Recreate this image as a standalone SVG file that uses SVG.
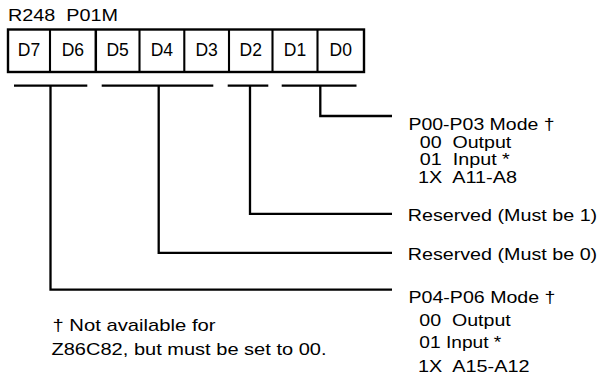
<svg xmlns="http://www.w3.org/2000/svg" width="598" height="377" viewBox="0 0 598 377">
<style>
  text { font-family: "Liberation Sans", Arial, sans-serif; fill: #000; }
  .lbl { font-size: 17px; }
  .bit { font-size: 17.5px; text-anchor: middle; }
  .box { fill: #fff; stroke: #000; stroke-width: 2.4; }
  .div { stroke: #000; stroke-width: 2.1; }
  .wire { fill: none; stroke: #000; stroke-width: 2.3; stroke-linejoin: miter; stroke-linecap: butt; }
</style>
<rect width="598" height="377" fill="#fff"/>
<g id="title">
  <text class="lbl" x="8" y="21" xml:space="preserve" textLength="110" lengthAdjust="spacingAndGlyphs">R248  P01M</text>
</g>
<g id="register">
  <rect class="box" x="8" y="29.5" width="356" height="42.5"/>
  <line class="div" x1="50" y1="29.5" x2="50" y2="72"/>
  <line class="div" x1="95.8" y1="29.5" x2="95.8" y2="72" style="stroke-width:2.5"/>
  <line class="div" x1="139.5" y1="29.5" x2="139.5" y2="72"/>
  <line class="div" x1="184.3" y1="29.5" x2="184.3" y2="72"/>
  <line class="div" x1="229" y1="29.5" x2="229" y2="72"/>
  <line class="div" x1="272.5" y1="29.5" x2="272.5" y2="72"/>
  <line class="div" x1="317.5" y1="29.5" x2="317.5" y2="72"/>
  <text class="bit" x="29" y="56">D7</text>
  <text class="bit" x="72.9" y="56">D6</text>
  <text class="bit" x="117.6" y="56">D5</text>
  <text class="bit" x="161.9" y="56">D4</text>
  <text class="bit" x="206.6" y="56">D3</text>
  <text class="bit" x="250.7" y="56">D2</text>
  <text class="bit" x="295" y="56">D1</text>
  <text class="bit" x="340.7" y="56">D0</text>
</g>
<g id="connectors">
  <line class="wire" x1="14" y1="85.6" x2="87.3" y2="85.6"/>
  <line class="wire" x1="101.7" y1="85.6" x2="213.3" y2="85.6"/>
  <line class="wire" x1="227.7" y1="85.6" x2="268.3" y2="85.6"/>
  <line class="wire" x1="281.7" y1="85.6" x2="356.5" y2="85.6"/>
  <polyline class="wire" points="320.3,85.6 320.3,116 392,116"/>
  <polyline class="wire" points="250,85.6 250,213.8 392,213.8"/>
  <polyline class="wire" points="158.7,85.6 158.7,252.8 392,252.8"/>
  <polyline class="wire" points="50.5,85.6 50.5,289.7 392,289.7"/>
</g>
<g id="p00-p03-mode">
  <text class="lbl" x="408.5" y="130" textLength="146" lengthAdjust="spacingAndGlyphs">P00-P03 Mode †</text>
  <text class="lbl" x="419.8" y="147.5" xml:space="preserve" textLength="91.5" lengthAdjust="spacingAndGlyphs">00  Output</text>
  <text class="lbl" x="419.8" y="165" xml:space="preserve" textLength="90" lengthAdjust="spacingAndGlyphs">01  Input *</text>
  <text class="lbl" x="418" y="182.5" xml:space="preserve" textLength="99" lengthAdjust="spacingAndGlyphs">1X  A11-A8</text>
</g>
<g id="reserved-1">
  <text class="lbl" x="407.7" y="221" textLength="189.5" lengthAdjust="spacingAndGlyphs">Reserved (Must be 1)</text>
</g>
<g id="reserved-0">
  <text class="lbl" x="407.7" y="259.5" textLength="189.5" lengthAdjust="spacingAndGlyphs">Reserved (Must be 0)</text>
</g>
<g id="p04-p06-mode">
  <text class="lbl" x="408.5" y="303" textLength="147" lengthAdjust="spacingAndGlyphs">P04-P06 Mode †</text>
  <text class="lbl" x="419.3" y="325.5" xml:space="preserve" textLength="91.5" lengthAdjust="spacingAndGlyphs">00  Output</text>
  <text class="lbl" x="419.3" y="348" xml:space="preserve" textLength="82" lengthAdjust="spacingAndGlyphs">01 Input *</text>
  <text class="lbl" x="418" y="371.5" xml:space="preserve" textLength="111.5" lengthAdjust="spacingAndGlyphs">1X  A15-A12</text>
</g>
<g id="footnote">
  <text class="lbl" x="52.5" y="330.5" textLength="163" lengthAdjust="spacingAndGlyphs">† Not available for</text>
  <text class="lbl" x="51.5" y="355" textLength="275" lengthAdjust="spacingAndGlyphs">Z86C82, but must be set to 00.</text>
</g>
</svg>
